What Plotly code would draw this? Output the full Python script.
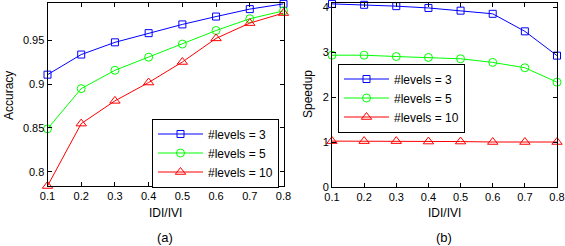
import plotly.graph_objects as go

x_vals = [0.1, 0.2, 0.3, 0.4, 0.5, 0.6, 0.7, 0.8]
x_ticktext = ["0.1", "0.2", "0.3", "0.4", "0.5", "0.6", "0.7", "0.8"]

acc_l3 = [0.911, 0.934, 0.948, 0.9585, 0.9685, 0.9775, 0.986, 0.992]
acc_l5 = [0.849, 0.895, 0.916, 0.931, 0.946, 0.9615, 0.975, 0.984]
acc_l10 = [0.7836, 0.855, 0.881, 0.902, 0.9255, 0.9525, 0.970, 0.9815]

sp_l3 = [4.07, 4.05, 4.02, 3.98, 3.92, 3.85, 3.46, 2.92]
sp_l5 = [2.93, 2.93, 2.90, 2.88, 2.85, 2.77, 2.65, 2.33]
sp_l10 = [1.02, 1.02, 1.02, 1.01, 1.01, 1.0, 1.0, 1.0]

acc_ticks = [0.8, 0.85, 0.9, 0.95]
acc_ticktext = ["0.8", "0.85", "0.9", "0.95"]
sp_ticks = [0, 1, 2, 3, 4]

series_names = ["#levels = 3", "#levels = 5", "#levels = 10"]
colors = ["#0000ff", "#00ff00", "#ff0000"]
symbols = ["square-open", "circle-open", "triangle-up-open"]
msizes = [7, 8, 9]

W, H = 565, 246
FONT = "Liberation Sans, Arial, Helvetica, sans-serif"

def px(x):
    return x / W

def py(y):
    return 1 - y / H

fig = go.Figure()

for vals, name, c, s, ms in zip([acc_l3, acc_l5, acc_l10], series_names, colors, symbols, msizes):
    fig.add_trace(go.Scatter(x=x_vals, y=vals, mode="lines+markers", name=name,
                             line=dict(color=c, width=1),
                             marker=dict(symbol=s, size=ms, color=c, line=dict(width=1, color=c)),
                             cliponaxis=False, xaxis="x", yaxis="y", legend="legend"))
for vals, name, c, s, ms in zip([sp_l3, sp_l5, sp_l10], series_names, colors, symbols, msizes):
    fig.add_trace(go.Scatter(x=x_vals, y=vals, mode="lines+markers", name=name,
                             line=dict(color=c, width=1),
                             marker=dict(symbol=s, size=ms, color=c, line=dict(width=1, color=c)),
                             cliponaxis=False, xaxis="x2", yaxis="y2", legend="legend2"))

axis_common = dict(showgrid=False, zeroline=False, showline=True, linecolor="black", linewidth=1,
                   mirror="allticks", ticks="inside", ticklen=4, tickcolor="black", automargin=False,
                   tickfont=dict(family=FONT, size=11, color="black"))

legend_common = dict(xanchor="left", yanchor="middle", bgcolor="white",
                     bordercolor="black", borderwidth=1, font=dict(family=FONT, size=12),
                     tracegroupgap=0, itemwidth=45)

def label(text, x, y, size, angle=0):
    return dict(text=text, x=px(x), y=py(y), xref="paper", yref="paper", showarrow=False,
                xanchor="center", yanchor="middle", textangle=angle,
                font=dict(family=FONT, size=size, color="black"))

fig.update_layout(
    template="none",
    width=W, height=H,
    margin=dict(l=0, r=0, t=0, b=0, autoexpand=False),
    paper_bgcolor="white", plot_bgcolor="white",
    font=dict(family=FONT, size=11, color="black"),
    xaxis=dict(domain=[px(47.5), px(283.5)], range=[0.1, 0.8], tickvals=x_vals, ticktext=x_ticktext,
               anchor="y", **axis_common),
    yaxis=dict(domain=[py(186), py(3)], range=[0.7836, 0.993], tickvals=acc_ticks, ticktext=acc_ticktext,
               anchor="x", **axis_common),
    xaxis2=dict(domain=[px(332), px(557)], range=[0.1, 0.8], tickvals=x_vals, ticktext=x_ticktext,
                anchor="y2", **axis_common),
    yaxis2=dict(domain=[py(187), py(3)], range=[0, 4.09], tickvals=sp_ticks,
                anchor="x2", **axis_common),
    legend=dict(x=px(152), y=py(153), **legend_common),
    legend2=dict(x=px(338), y=py(98), **legend_common),
    showlegend=True,
    annotations=[
        label("IDI/IVI", 165, 213, 12),
        label("IDI/IVI", 444, 213, 12),
        label("(a)", 165, 237, 13),
        label("(b)", 444, 237, 13),
        label("Accuracy", 9, 96, 12, -90),
        label("Speedup", 308, 94, 12, -90),
    ],
)

fig.write_html("out.html", config={"displayModeBar": False},
               post_script="document.body.style.margin='0';document.body.style.overflow='hidden';")
